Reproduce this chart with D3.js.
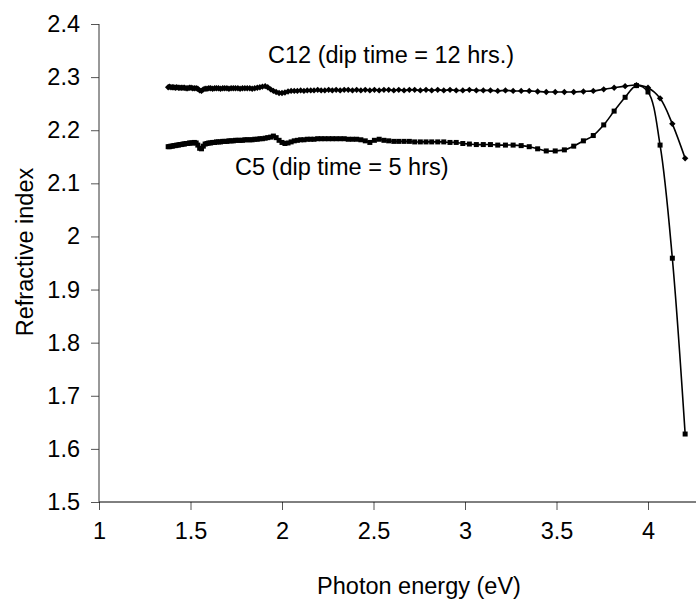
<!DOCTYPE html>
<html>
<head>
<meta charset="utf-8">
<script src="https://cdn.jsdelivr.net/npm/d3@7"></script>
<style>
  body { margin: 0; background: #fff; }
  text { font-family: "Liberation Sans", Arial, sans-serif; fill: #000; }
</style>
</head>
<body>
<div id="chart"></div>
<script>
// photon energy (eV) of each measured point
var energy = [
  1.378, 1.385, 1.393, 1.401, 1.409, 1.417, 1.425, 1.434, 1.442, 1.450,
  1.459, 1.467, 1.476, 1.485, 1.494, 1.503, 1.512, 1.521, 1.531, 1.540,
  1.550, 1.560, 1.570, 1.580, 1.590, 1.600, 1.610, 1.621, 1.632, 1.642,
  1.653, 1.664, 1.676, 1.687, 1.699, 1.710, 1.722, 1.734, 1.746, 1.759,
  1.771, 1.784, 1.797, 1.810, 1.824, 1.837, 1.851, 1.865, 1.879, 1.893,
  1.908, 1.922, 1.938, 1.953, 1.968, 1.984, 2.000, 2.016, 2.033, 2.050,
  2.067, 2.084, 2.102, 2.120, 2.138, 2.157, 2.175, 2.195, 2.214, 2.234,
  2.255, 2.275, 2.296, 2.318, 2.340, 2.362, 2.385, 2.408, 2.431, 2.455,
  2.480, 2.505, 2.531, 2.557, 2.583, 2.611, 2.638, 2.667, 2.696, 2.725,
  2.756, 2.787, 2.818, 2.851, 2.884, 2.918, 2.952, 2.988, 3.024, 3.062,
  3.100, 3.139, 3.179, 3.221, 3.263, 3.307, 3.351, 3.397, 3.444, 3.493,
  3.543, 3.594, 3.647, 3.701, 3.758, 3.815, 3.875, 3.937, 4.000, 4.066,
  4.133, 4.203
];

var c12 = [
  2.281, 2.282, 2.281, 2.281, 2.281, 2.280, 2.281, 2.280, 2.280, 2.280,
  2.280, 2.280, 2.279, 2.279, 2.280, 2.280, 2.279, 2.279, 2.279, 2.278,
  2.275, 2.274, 2.277, 2.278, 2.278, 2.279, 2.279, 2.278, 2.279, 2.279,
  2.279, 2.278, 2.279, 2.279, 2.279, 2.278, 2.279, 2.279, 2.279, 2.279,
  2.278, 2.279, 2.279, 2.279, 2.279, 2.278, 2.279, 2.280, 2.281, 2.282,
  2.283, 2.281, 2.277, 2.274, 2.272, 2.270, 2.270, 2.271, 2.273, 2.274,
  2.274, 2.274, 2.275, 2.274, 2.275, 2.275, 2.275, 2.276, 2.275, 2.275,
  2.276, 2.275, 2.276, 2.275, 2.276, 2.276, 2.275, 2.276, 2.275, 2.276,
  2.275, 2.276, 2.275, 2.276, 2.276, 2.275, 2.276, 2.275, 2.276, 2.276,
  2.275, 2.276, 2.275, 2.276, 2.275, 2.276, 2.275, 2.275, 2.276, 2.275,
  2.275, 2.275, 2.274, 2.275, 2.274, 2.274, 2.274, 2.273, 2.272, 2.272,
  2.272, 2.272, 2.273, 2.274, 2.277, 2.280, 2.283, 2.285, 2.280, 2.260,
  2.212, 2.147
];

var c5 = [
  2.169, 2.169, 2.170, 2.170, 2.171, 2.171, 2.172, 2.172, 2.173, 2.173,
  2.174, 2.174, 2.175, 2.175, 2.176, 2.176, 2.176, 2.177, 2.176, 2.172,
  2.166, 2.165, 2.170, 2.174, 2.175, 2.176, 2.176, 2.177, 2.177, 2.178,
  2.178, 2.178, 2.179, 2.179, 2.179, 2.180, 2.180, 2.180, 2.181, 2.181,
  2.181, 2.181, 2.182, 2.182, 2.182, 2.182, 2.183, 2.183, 2.184, 2.184,
  2.185, 2.186, 2.187, 2.189, 2.186, 2.181, 2.177, 2.175, 2.176, 2.178,
  2.180, 2.181, 2.182, 2.182, 2.183, 2.183, 2.183, 2.184, 2.184, 2.184,
  2.184, 2.184, 2.184, 2.184, 2.184, 2.183, 2.183, 2.183, 2.182, 2.180,
  2.177, 2.181, 2.183, 2.181, 2.180, 2.179, 2.179, 2.179, 2.179, 2.178,
  2.178, 2.178, 2.178, 2.178, 2.178, 2.177, 2.177, 2.175, 2.174, 2.173,
  2.173, 2.173, 2.172, 2.172, 2.172, 2.171, 2.169, 2.165, 2.161, 2.161,
  2.163, 2.170, 2.180, 2.190, 2.210, 2.236, 2.262, 2.284, 2.272, 2.172,
  1.959, 1.628
];

var xTicks = [1, 1.5, 2, 2.5, 3, 3.5, 4];
var yTicks = [1.5, 1.6, 1.7, 1.8, 1.9, 2, 2.1, 2.2, 2.3, 2.4];

var seriesLabels = ["C12 (dip time = 12 hrs.)", "C5 (dip time = 5 hrs)"];

var width = 696, height = 603;

var svg = d3.select("#chart").append("svg")
    .attr("width", width)
    .attr("height", height);

var x = d3.scaleLinear().domain([1, 4.5]).range([99, 739.5]);
var y = d3.scaleLinear().domain([1.5, 2.4]).range([502, 24]);

// axes
var xAxis = svg.append("g")
    .attr("transform", "translate(0," + y(1.5) + ")")
    .call(d3.axisBottom(x).tickValues(xTicks).tickSize(8).tickPadding(12)
      .tickFormat(d3.format("")));
xAxis.select(".domain").remove();
xAxis.append("line").attr("x1", x(1)).attr("x2", width).attr("stroke", "#000");
xAxis.selectAll(".tick line").attr("stroke", "#555");
xAxis.selectAll(".tick text").style("font-size", "23.5px").attr("fill", "#000");

var yAxis = svg.append("g")
    .attr("transform", "translate(" + x(1) + ",0)")
    .call(d3.axisLeft(y).tickValues(yTicks).tickSize(8).tickPadding(11)
      .tickFormat(d3.format("")));
yAxis.select(".domain").remove();
yAxis.append("line").attr("y1", y(1.5)).attr("y2", y(2.4)).attr("stroke", "#333");
yAxis.selectAll(".tick line").attr("stroke", "#555");
yAxis.selectAll(".tick text").style("font-size", "23.5px").attr("fill", "#000");

svg.append("text")
    .attr("x", 419).attr("y", 594)
    .attr("text-anchor", "middle")
    .style("font-size", "23.5px")
    .text("Photon energy (eV)");

svg.append("text")
    .attr("transform", "translate(33,252) rotate(-90)")
    .attr("text-anchor", "middle")
    .style("font-size", "23.5px")
    .text("Refractive index");

var line = d3.line()
    .x(function(d) { return x(d[0]); })
    .y(function(d) { return y(d[1]); })
    .curve(d3.curveCatmullRom);

var pts12 = energy.map(function(e, i) { return [e, c12[i]]; });
var pts5 = energy.map(function(e, i) { return [e, c5[i]]; });

[pts12, pts5].forEach(function(pts) {
  svg.append("path")
      .attr("d", line(pts))
      .attr("fill", "none")
      .attr("stroke", "#000")
      .attr("stroke-width", 1.6);
});

// C12 diamonds
svg.append("g").selectAll("path")
  .data(pts12)
  .enter().append("path")
    .attr("transform", function(d) { return "translate(" + x(d[0]) + "," + y(d[1]) + ")"; })
    .attr("d", "M0,-3.2L3.2,0L0,3.2L-3.2,0Z")
    .attr("fill", "#000");

// C5 squares
svg.append("g").selectAll("rect")
  .data(pts5)
  .enter().append("rect")
    .attr("x", function(d) { return x(d[0]) - 2.5; })
    .attr("y", function(d) { return y(d[1]) - 2.5; })
    .attr("width", 5)
    .attr("height", 5)
    .attr("fill", "#000");

svg.append("text")
    .attr("x", 268).attr("y", 63)
    .style("font-size", "23.5px")
    .text(seriesLabels[0]);

svg.append("text")
    .attr("x", 235).attr("y", 175)
    .style("font-size", "23.5px")
    .text(seriesLabels[1]);
</script>
</body>
</html>
